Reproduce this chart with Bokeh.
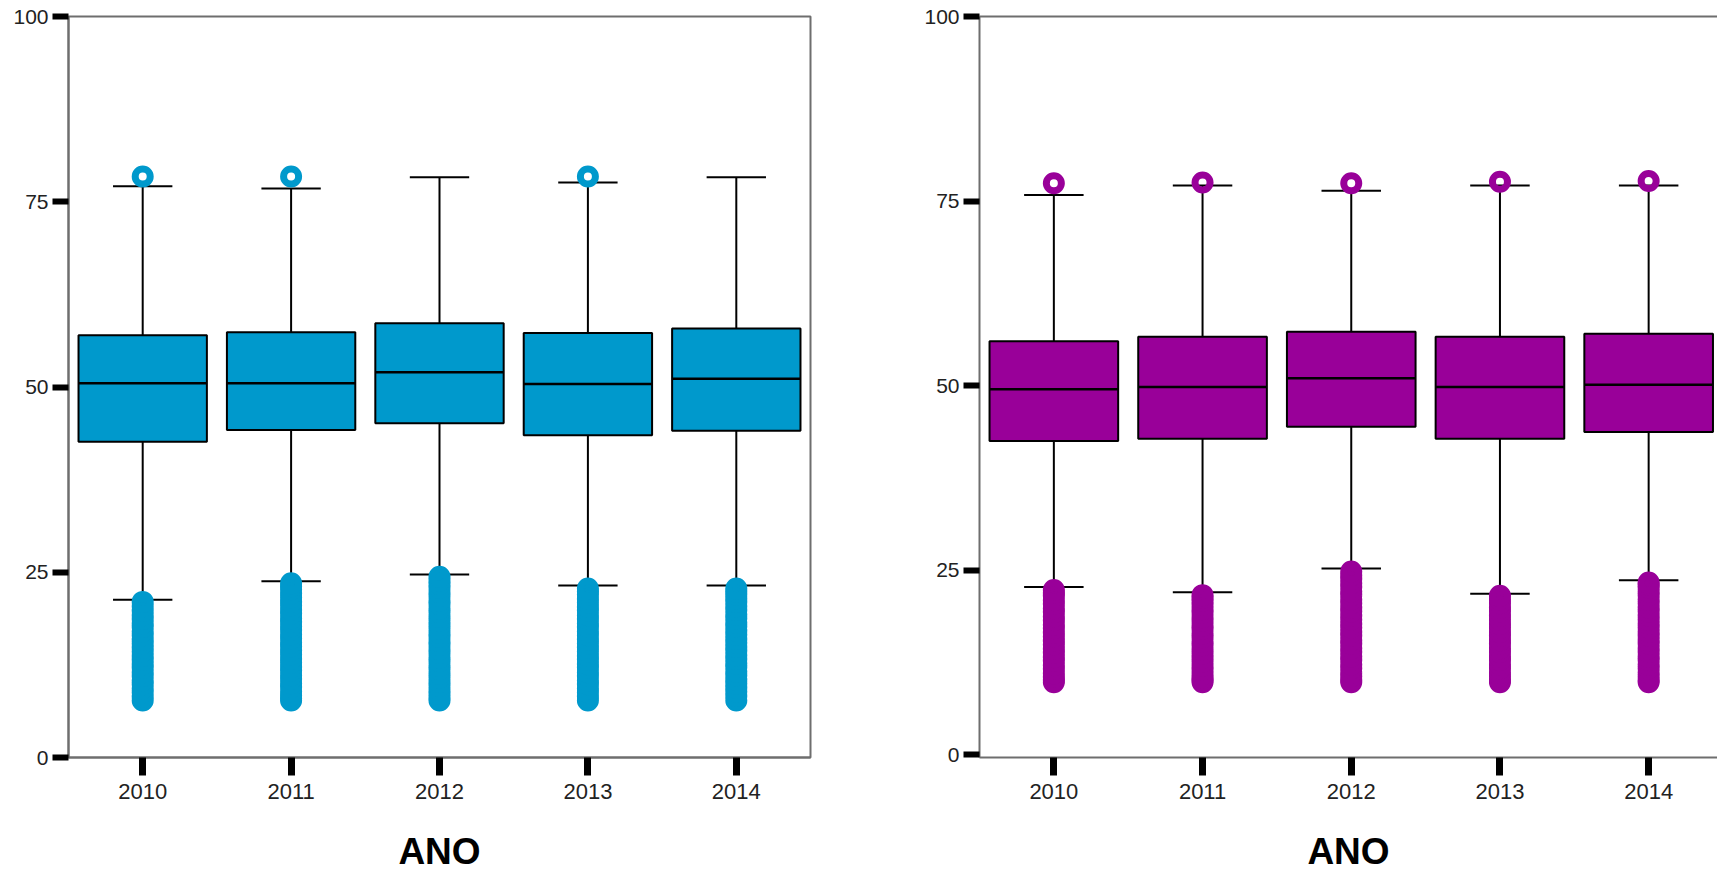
from bokeh.plotting import figure
from bokeh.models import Range1d, FixedTicker, LinearAxis
from bokeh.layouts import row
from bokeh.embed import file_html
from bokeh.resources import INLINE

years = ["2010", "2011", "2012", "2013", "2014"]
y_ticks = [0, 25, 50, 75, 100]
x_title = "ANO"

# ---- Left panel (blue) ----
left_q1 = [42.6, 44.2, 45.1, 43.5, 44.1]
left_median = [50.5, 50.5, 52.0, 50.4, 51.1]
left_q3 = [57.0, 57.4, 58.6, 57.3, 57.9]
left_whisker_low = [21.3, 23.8, 24.7, 23.2, 23.2]
left_whisker_high = [77.1, 76.8, 78.3, 77.6, 78.3]
left_outliers_high = [[78.4], [78.4], [], [78.4], []]
left_outliers_low = [
    [7.7, 8.2, 8.8, 9.3, 9.9, 10.4, 11.0, 11.5, 12.1, 12.6, 13.2, 13.7, 14.3,
     14.8, 15.4, 15.9, 16.5, 17.0, 17.6, 18.1, 18.7, 19.2, 19.8, 20.4, 21.0],
    [7.7, 8.0, 8.4, 8.9, 9.5, 10.0, 10.6, 11.1, 11.7, 12.2, 12.8, 13.3, 13.9,
     14.4, 15.0, 15.5, 16.1, 16.6, 17.2, 17.7, 18.3, 18.8, 19.4, 19.9, 20.5,
     21.0, 21.6, 22.1, 22.7, 23.1, 23.5],
    [7.7, 8.1, 8.6, 9.1, 9.7, 10.2, 10.8, 11.3, 11.9, 12.4, 13.0, 13.5, 14.1,
     14.6, 15.2, 15.7, 16.3, 16.8, 17.4, 17.9, 18.5, 19.0, 19.6, 20.1, 20.7,
     21.2, 21.8, 22.3, 22.9, 23.4, 23.9, 24.4],
    [7.7, 8.2, 8.8, 9.3, 9.9, 10.4, 11.0, 11.5, 12.1, 12.6, 13.2, 13.7, 14.3,
     14.8, 15.4, 15.9, 16.5, 17.0, 17.6, 18.1, 18.7, 19.2, 19.8, 20.3, 20.9,
     21.4, 22.0, 22.4, 22.8],
    [7.7, 8.3, 8.9, 9.4, 10.0, 10.5, 11.1, 11.6, 12.2, 12.7, 13.3, 13.8, 14.4,
     14.9, 15.5, 16.0, 16.6, 17.1, 17.7, 18.2, 18.8, 19.3, 19.9, 20.4, 21.0,
     21.5, 22.0, 22.4, 22.8],
]

# ---- Right panel (purple) ----
right_q1 = [42.5, 42.8, 44.4, 42.8, 43.7]
right_median = [49.5, 49.8, 51.0, 49.8, 50.1]
right_q3 = [56.0, 56.6, 57.3, 56.6, 57.0]
right_whisker_low = [22.7, 22.0, 25.2, 21.8, 23.6]
right_whisker_high = [75.8, 77.1, 76.4, 77.1, 77.1]
right_outliers_high = [[77.4], [77.5], [77.4], [77.6], [77.7]]
right_outliers_low = [
    [9.8, 10.1, 10.5, 11.0, 11.6, 12.1, 12.7, 13.2, 13.8, 14.3, 14.9, 15.4,
     16.0, 16.5, 17.1, 17.6, 18.2, 18.7, 19.3, 19.8, 20.4, 20.9, 21.5, 21.9, 22.3],
    [9.8, 10.1, 10.4, 10.9, 11.5, 12.0, 12.6, 13.1, 13.7, 14.2, 14.8, 15.3,
     15.9, 16.4, 17.0, 17.5, 18.1, 18.6, 19.2, 19.7, 20.3, 20.8, 21.2, 21.6],
    [9.8, 10.1, 10.6, 11.1, 11.7, 12.2, 12.8, 13.3, 13.9, 14.4, 15.0, 15.5,
     16.1, 16.6, 17.2, 17.7, 18.3, 18.8, 19.4, 19.9, 20.5, 21.0, 21.6, 22.1,
     22.7, 23.2, 23.8, 24.3, 24.8],
    [9.8, 10.1, 10.6, 11.1, 11.7, 12.2, 12.8, 13.3, 13.9, 14.4, 15.0, 15.5,
     16.1, 16.6, 17.2, 17.7, 18.3, 18.8, 19.4, 19.9, 20.5, 21.0, 21.5],
    [9.8, 10.1, 10.6, 11.1, 11.7, 12.2, 12.8, 13.3, 13.9, 14.4, 15.0, 15.5,
     16.1, 16.6, 17.2, 17.7, 18.3, 18.8, 19.4, 19.9, 20.5, 21.0, 21.6, 22.1,
     22.6, 23.0, 23.3],
]

BLUE = "#0099CC"
PURPLE = "#990099"
FONT = "Liberation Sans"
BOX_W = 0.865
CAP_W = 0.40
FRAME_GREY = "#6e6e6e"
HEIGHT = 874
BORDER_TOP = 16
BORDER_BOTTOM = 117


def make_panel(q1, med, q3, wlo, whi, out_hi, out_lo, color,
               width, x_end, y_start, border_left, border_right, full_outline):
    pos = [i + 1 for i in range(len(years))]
    p = figure(width=width, height=HEIGHT, output_backend="svg",
               toolbar_location=None, x_range=Range1d(0.5, x_end),
               y_range=Range1d(y_start, 100),
               min_border_left=border_left, min_border_right=border_right,
               min_border_top=BORDER_TOP, min_border_bottom=BORDER_BOTTOM)
    p.grid.visible = False
    p.background_fill_color = "white"
    p.border_fill_color = "white"

    # whiskers
    p.segment(x0=pos, y0=q3, x1=pos, y1=whi, line_color="black", line_width=2)
    p.segment(x0=pos, y0=q1, x1=pos, y1=wlo, line_color="black", line_width=2)
    cl = [x - CAP_W / 2 for x in pos]
    cr = [x + CAP_W / 2 for x in pos]
    p.segment(x0=cl, y0=whi, x1=cr, y1=whi, line_color="black", line_width=2)
    p.segment(x0=cl, y0=wlo, x1=cr, y1=wlo, line_color="black", line_width=2)
    # boxes
    p.vbar(x=pos, width=BOX_W, bottom=q1, top=q3, fill_color=color,
           line_color="black", line_width=2)
    bl = [x - BOX_W / 2 for x in pos]
    br = [x + BOX_W / 2 for x in pos]
    p.segment(x0=bl, y0=med, x1=br, y1=med, line_color="black", line_width=2.5)
    # outliers
    ox, oy = [], []
    for i, x in enumerate(pos):
        for v in out_lo[i] + out_hi[i]:
            ox.append(x)
            oy.append(v)
    p.scatter(x=ox, y=oy, marker="circle", size=15, line_width=7,
              line_color=color, fill_alpha=0)

    # axes
    xa = p.below[0]
    xa.ticker = FixedTicker(ticks=pos)
    xa.major_label_overrides = {x: years[i] for i, x in enumerate(pos)}
    xa.minor_tick_line_color = None
    xa.major_tick_line_color = "black"
    xa.major_tick_line_width = 7
    xa.major_tick_out = 18
    xa.major_tick_in = 0
    xa.axis_line_color = FRAME_GREY
    xa.axis_line_width = 2
    xa.major_label_text_font = FONT
    xa.major_label_text_font_size = "22px"
    xa.major_label_text_color = "#222222"
    xa.major_label_standoff = 8
    xa.axis_label = x_title
    xa.axis_label_text_font = FONT
    xa.axis_label_text_font_size = "37px"
    xa.axis_label_text_font_style = "bold"
    xa.axis_label_text_color = "black"
    xa.axis_label_standoff = 29

    ya = p.left[0]
    ya.ticker = FixedTicker(ticks=y_ticks)
    ya.minor_tick_line_color = None
    ya.major_tick_line_color = "black"
    ya.major_tick_line_width = 6
    ya.major_tick_out = 16
    ya.major_tick_in = 0
    ya.axis_line_color = FRAME_GREY
    ya.axis_line_width = 2
    ya.major_label_text_font = FONT
    ya.major_label_text_font_size = "21px"
    ya.major_label_text_color = "#222222"
    ya.major_label_standoff = 4

    if full_outline:
        p.outline_line_color = FRAME_GREY
        p.outline_line_width = 2
    else:
        p.outline_line_color = None
        top = LinearAxis(ticker=FixedTicker(ticks=[]), axis_line_color=FRAME_GREY,
                         axis_line_width=2, major_tick_line_color=None,
                         minor_tick_line_color=None,
                         major_label_text_font_size="0px")
        p.add_layout(top, "above")
    return p


left = make_panel(left_q1, left_median, left_q3, left_whisker_low,
                  left_whisker_high, left_outliers_high, left_outliers_low,
                  BLUE, width=870, x_end=5.5, y_start=0,
                  border_left=68, border_right=60, full_outline=True)
right = make_panel(right_q1, right_median, right_q3, right_whisker_low,
                   right_whisker_high, right_outliers_high, right_outliers_low,
                   PURPLE, width=847, x_end=5.463, y_start=-0.4,
                   border_left=109, border_right=0, full_outline=False)

layout = row(left, right)
open("out.html", "w").write(file_html(layout, INLINE))
